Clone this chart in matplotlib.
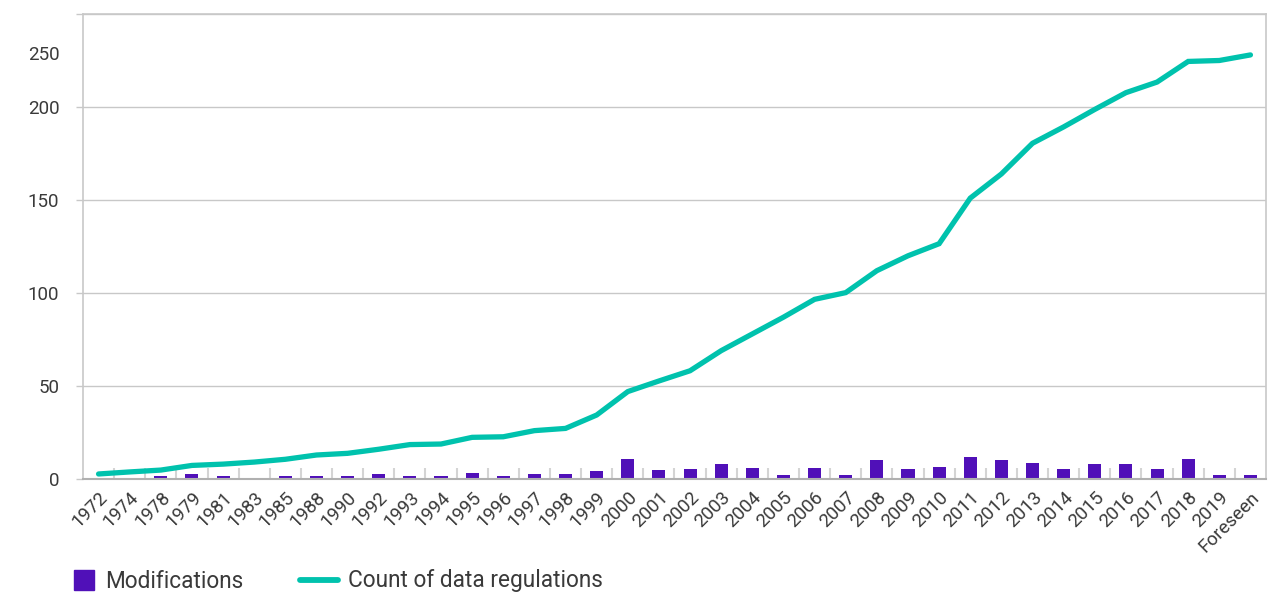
import matplotlib
matplotlib.use("Agg")
import matplotlib.pyplot as plt
from matplotlib.lines import Line2D
from matplotlib.patches import Rectangle, Patch
from matplotlib.legend_handler import HandlerPatch
import numpy as np

categories = ["1972", "1974", "1978", "1979", "1981", "1983", "1985", "1988", "1990",
              "1992", "1993", "1994", "1995", "1996", "1997", "1998", "1999",
              "2000", "2001", "2002", "2003", "2004", "2005", "2006", "2007", "2008",
              "2009", "2010", "2011", "2012", "2013", "2014", "2015", "2016", "2017",
              "2018", "2019", "Foreseen"]

modifications = [0, 0, 1.7, 2.7, 1.7, 0, 1.7, 1.7, 1.7,
                 2.7, 1.7, 1.7, 3.2, 1.7, 2.7, 2.7, 4.2,
                 10.7, 4.7, 5.3, 7.8, 5.8, 2, 5.8, 2, 10,
                 5.3, 6.3, 11.7, 10.2, 8.5, 5.3, 7.8, 7.8, 5.3,
                 11, 2, 2]

count_regulations = [2.7, 3.8, 4.8, 7.3, 8, 9.1, 10.6, 12.9, 13.8,
                     16, 18.5, 18.8, 22.4, 22.7, 26, 27.2, 34.4,
                     47, 52.7, 58.2, 69, 78, 87, 96.6, 100.2, 112,
                     120, 126.5, 151, 164, 180.5, 189.3, 198.7, 207.7, 213.4,
                     224.5, 225, 228]

y_ticks = [0, 50, 100, 150, 200, 250]
y_tick_labels = ["0", "50", "100", "150", "200", ""]

BAR_COLOR = "#5010B8"
LINE_COLOR = "#00C2AD"
TEXT_COLOR = "#3a3a3a"
GRID_COLOR = "#c8c8c8"

plt.rcParams["font.family"] = ["Roboto", "DejaVu Sans"]

fig = plt.figure(figsize=(12.77, 5.94), dpi=100)
ax = fig.add_axes([83 / 1277, 1 - 479 / 594, (1266 - 83) / 1277, (479 - 14) / 594])

x = np.arange(len(categories))
ax.bar(x, modifications, width=0.42, color=BAR_COLOR, zorder=3)
ax.plot(x, count_regulations, color=LINE_COLOR, lw=3.8, solid_capstyle="round",
        solid_joinstyle="miter", zorder=4)

ax.set_xlim(-0.5, len(categories) - 0.5)
ax.set_ylim(0, 250)

ax.set_yticks(y_ticks, labels=y_tick_labels)
# the "250" label sits below the top frame in the reference
ax.set_yticks([229], labels=["250"], minor=True)
ax.tick_params(axis="y", which="major", length=5, width=1, color=GRID_COLOR, pad=12,
               labelsize=13.5, labelcolor=TEXT_COLOR)
ax.tick_params(axis="y", which="minor", length=0, pad=17,
               labelsize=13.5, labelcolor=TEXT_COLOR)

ax.set_xticks(x, labels=categories, rotation=45, ha="right", rotation_mode="anchor")
ax.set_xticks(np.arange(len(categories) - 1) + 0.5, minor=True)
ax.tick_params(axis="x", which="major", length=0, pad=7, labelsize=13.5, labelcolor=TEXT_COLOR)
ax.tick_params(axis="x", which="minor", direction="in", length=8, width=1.5, color="#d4d4d4")

ax.grid(axis="y", which="major", color=GRID_COLOR, lw=1, zorder=0)
ax.set_axisbelow(True)

for s in ["left", "top", "right"]:
    ax.spines[s].set_color(GRID_COLOR)
    ax.spines[s].set_linewidth(1.2)
ax.spines["bottom"].set_color("#b0b0b0")
ax.spines["bottom"].set_linewidth(1.5)
ax.spines["bottom"].set_zorder(5)


def square_at_right(legend, orig_handle, xdescent, ydescent, width, height, fontsize):
    s = 14.5  # points
    cy = -ydescent + height / 2
    return Rectangle((-xdescent + width - s, cy - s / 2), s, s)


handles = [
    Patch(color=BAR_COLOR),
    Line2D([], [], color=LINE_COLOR, lw=4.2, solid_capstyle="round"),
]
leg = fig.legend(handles, ["Modifications", "Count of data regulations"],
                 handler_map={Patch: HandlerPatch(patch_func=square_at_right)},
                 loc="center left", bbox_to_anchor=(56 / 1277, 1 - 581 / 594),
                 ncol=2, frameon=False, fontsize=16.3, handlelength=1.7,
                 handletextpad=0.45, columnspacing=2.5, borderaxespad=0, borderpad=0)
for t in leg.get_texts():
    t.set_color(TEXT_COLOR)

fig.savefig("out.png", dpi=100)
